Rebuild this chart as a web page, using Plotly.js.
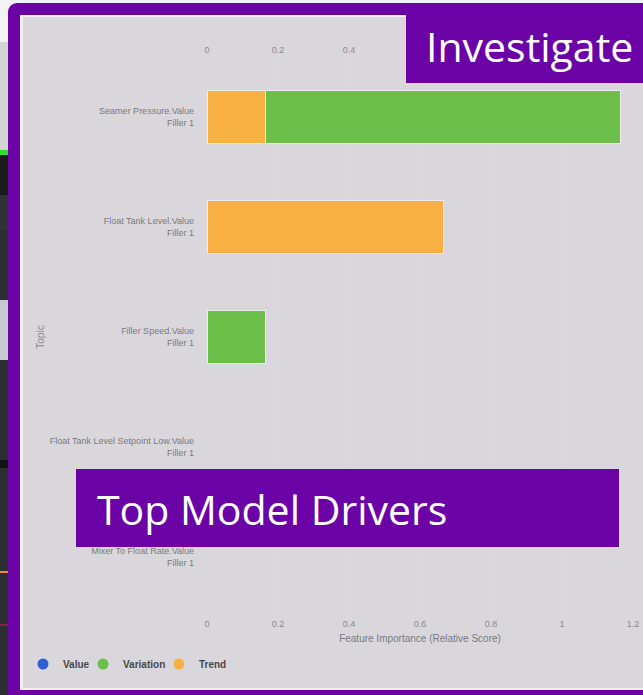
<!DOCTYPE html>
<html>
<head>
<meta charset="utf-8">
<script src="https://cdn.plot.ly/plotly-3.0.1.min.js"></script>
<style>
  html, body { margin:0; padding:0; width:643px; height:695px; overflow:hidden; background:#d6d6d9; position:relative; }
  .abs { position:absolute; }
</style>
</head>
<body>
<!-- background strip (slide behind) -->
<div class="abs" style="left:0;top:0;width:643px;height:42px;background:#f3f3f5;"></div>
<div class="abs" style="left:0;top:42px;width:8px;height:108px;background:#d4d4d7;"></div>
<div class="abs" style="left:0;top:150px;width:8px;height:6px;background:#2ee02e;"></div>
<div class="abs" style="left:0;top:155px;width:8px;height:40px;background:#1b1b1c;"></div>
<div class="abs" style="left:0;top:195px;width:8px;height:35px;background:#303336;"></div>
<div class="abs" style="left:0;top:230px;width:8px;height:240px;background:#2b2e31;"></div>
<div class="abs" style="left:0;top:300px;width:8px;height:60px;background:#c9c7d2;"></div>
<div class="abs" style="left:0;top:460px;width:8px;height:8px;background:#111;"></div>
<div class="abs" style="left:0;top:468px;width:8px;height:227px;background:#2b2e31;"></div>
<div class="abs" style="left:0;top:571px;width:8px;height:2px;background:#f08a1c;"></div>
<div class="abs" style="left:0;top:624px;width:8px;height:2px;background:#8a1f44;"></div>
<!-- purple frame -->
<div class="abs" style="left:8px;top:3px;width:700px;height:700px;background:#6a02a6;border-radius:9px 0 0 0;"></div>
<div class="abs" style="left:20px;top:15px;width:700px;height:675px;background:#f3f1f5;"></div>
<div class="abs" style="left:23px;top:17px;width:700px;height:671px;background:#d9d7dc;"></div>
<div id="chart" class="abs" style="left:0;top:0;width:643px;height:695px;"></div>
<script>
// ---- data ----
const topics = [
  "Seamer Pressure.Value<br>Filler 1",
  "Float Tank Level.Value<br>Filler 1",
  "Filler Speed.Value<br>Filler 1",
  "Float Tank Level Setpoint Low.Value<br>Filler 1",
  "Mixer To Float Rate.Value<br>Filler 1"
];
const valueScores     = [0, 0, 0, 0, 0];
const trendScores     = [0.166, 0.665, 0, 0, 0];
const variationScores = [1.0, 0, 0.166, 0, 0];
const seriesNames  = ["Value", "Variation", "Trend"];
const seriesColors = ["#2f5fd8", "#6cc04a", "#f9b042"];
const xTicks = [0, 0.2, 0.4, 0.6, 0.8, 1, 1.2];
const topTicksVisible = [0, 0.2, 0.4];   // top labels not covered by the "Investigate" banner

const outline = vals => ({color: "#ececec", width: vals.map(v => v > 0 ? 1 : 0)});
const traces = [
  {type:"bar", orientation:"h", name:"Value", y:topics, x:valueScores,
   marker:{color:seriesColors[0], line:outline(valueScores)}, showlegend:false},
  {type:"bar", orientation:"h", name:"Trend", y:topics, x:trendScores,
   marker:{color:seriesColors[2], line:outline(trendScores)}, showlegend:false},
  {type:"bar", orientation:"h", name:"Variation", y:topics, x:variationScores,
   marker:{color:seriesColors[1], line:outline(variationScores)}, showlegend:false},
  // carrier for the mirrored top axis (no visible marks)
  {type:"scatter", mode:"markers", x:trendScores, y:topics, xaxis:"x2",
   marker:{opacity:0}, showlegend:false, hoverinfo:"skip"}
];
// legend entries (circle symbols), one legend each for precise placement
const legendIds = ["legend", "legend2", "legend3"];
seriesNames.forEach((n, i) => {
  traces.push({type:"scatter", mode:"markers", name:n, x:[null], y:[null], legend:legendIds[i],
    marker:{color:seriesColors[i], size:11, symbol:"circle"}, hoverinfo:"skip"});
});

const tickFont = {family:"Liberation Sans, Arial, sans-serif", size:9, color:"#8a8a8a"};
const W = 643, H = 695, L = 207, R = 10, T = 62, B = 83;
const pw = W - L - R, ph = H - T - B;
const px = v => (v - L) / pw;
const py = v => (H - B - v) / ph;

const legendStyle = x => ({
  orientation:"h", x:px(x), y:py(664), xanchor:"left", yanchor:"middle",
  font:{size:10, color:"#484848", weight:"bold"}, bgcolor:"rgba(0,0,0,0)", itemwidth:30
});

const layout = {
  width: W, height: H,
  margin: {l:L, r:R, t:T, b:B},
  paper_bgcolor: "rgba(0,0,0,0)",
  plot_bgcolor: "rgba(0,0,0,0)",
  barmode: "stack",
  bargap: 0.527,
  font: {family:"Liberation Sans, Arial, sans-serif"},
  xaxis: {
    range:[0, 1.2], tickvals:xTicks, showgrid:true, gridcolor:"#dcdadf", gridwidth:1,
    zeroline:false, showline:false, tickfont:tickFont, ticks:"", ticklabelstandoff:5,
    title:{text:"Feature Importance (Relative Score)", font:{size:10, color:"#7a7a7a"}, standoff:6}
  },
  xaxis2: {
    overlaying:"x", matches:"x", side:"top", anchor:"y", range:[0, 1.2], tickvals:topTicksVisible,
    showgrid:false, zeroline:false, showline:false, tickfont:tickFont, ticks:"", ticklabelstandoff:6
  },
  yaxis: {
    autorange:"reversed", type:"category", categoryorder:"array", categoryarray:topics,
    showgrid:false, zeroline:false, showline:false, ticks:"", ticklabelstandoff:12,
    tickfont:{family:"Liberation Sans, Arial, sans-serif", size:9, color:"#7a7a7a"},
    title:{text:"Topic", font:{size:10, color:"#8a8a8a"}, standoff:3}
  },
  legend: legendStyle(23),
  legend2: legendStyle(83),
  legend3: legendStyle(159),
  shapes: [
    {type:"rect", xref:"paper", yref:"paper", x0:px(406), x1:px(645), y0:py(83), y1:py(14),
     fillcolor:"#6a02a6", line:{width:0}, layer:"above"},
    {type:"rect", xref:"paper", yref:"paper", x0:px(76), x1:px(619), y0:py(547), y1:py(469),
     fillcolor:"#6a02a6", line:{width:0}, layer:"above"}
  ],
  annotations: [
    {text:"Investigate", xref:"paper", yref:"paper", x:px(424), y:py(46), xanchor:"left", yanchor:"middle",
     showarrow:false, font:{family:"Open Sans, sans-serif", size:41, color:"#ffffff"}},
    {text:"Top Model Drivers", xref:"paper", yref:"paper", x:px(95), y:py(509), xanchor:"left", yanchor:"middle",
     showarrow:false, font:{family:"Open Sans, sans-serif", size:41, color:"#ffffff"}}
  ]
};

Plotly.newPlot("chart", traces, layout, {displayModeBar:false, staticPlot:true});
</script>
</body>
</html>
